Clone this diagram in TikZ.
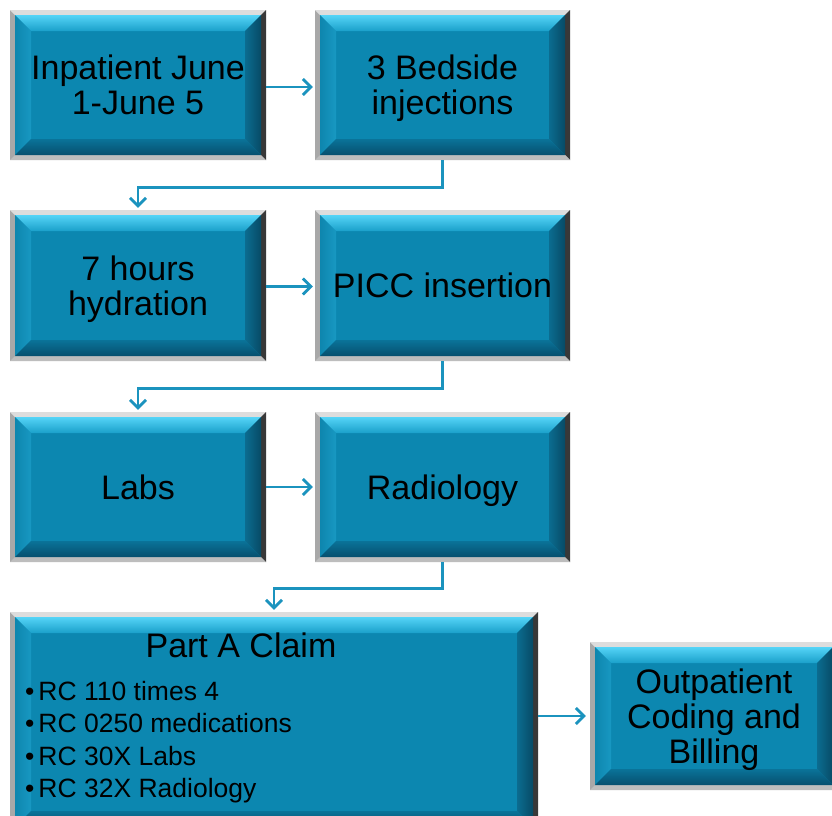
\documentclass[tikz,border=0pt]{standalone}
\usepackage{fontspec}
\setmainfont{Liberation Sans}
\usetikzlibrary{arrows.meta}
\definecolor{face}{HTML}{0C87B0}
\definecolor{bevtopA}{HTML}{55D4F7}
\definecolor{bevtopB}{HTML}{1AA0CA}
\definecolor{bevleftA}{HTML}{0E86AE}
\definecolor{bevleftB}{HTML}{1898C2}
\definecolor{bevrightA}{HTML}{074B66}
\definecolor{bevrightB}{HTML}{0B6C90}
\definecolor{bevbotA}{HTML}{0A7399}
\definecolor{bevbotB}{HTML}{064F6E}
\definecolor{frtop}{HTML}{DDDDDD}
\definecolor{frleft}{HTML}{A8A8A8}
\definecolor{frright}{HTML}{383838}
\definecolor{frbot}{HTML}{BDBDBD}
\definecolor{conncol}{HTML}{1B93BE}
\newcommand\hstr{\rule{0pt}{32.3pt}}
\newcommand\dstr{\rule[-7.5pt]{0pt}{7.5pt}}
\tikzset{
  conn/.style={draw=conncol, line width=2.8pt, -{Straight Barb[length=8pt,width=16pt]}, shorten >=2pt},
  boxtext/.style={font=\fontsize{34}{35}\selectfont, align=center, text=black, inner sep=0pt},
  bultext/.style={font=\fontsize{26.5}{32.4}\selectfont, align=left, text=black, inner sep=0pt, anchor=west},
}
% #1 name, #2 x1, #3 y1, #4 x2, #5 y2, #6 text
\newcommand\bevbox[6]{%
  \fill[frleft] (#2,#3) rectangle (#4,#5);
  \fill[frtop] (#2,#3) -- (#4,#3) -- (#4-5,#3+5) -- (#2+5,#3+5) -- cycle;
  \fill[frright] (#4,#3) -- (#4,#5) -- (#4-5,#5-5) -- (#4-5,#3+5) -- cycle;
  \fill[frbot] (#2,#5) -- (#4,#5) -- (#4-5,#5-5) -- (#2+5,#5-5) -- cycle;
  \fill[face] (#2+5,#3+5) rectangle (#4-5,#5-5);
  \shade[top color=bevtopA, bottom color=bevtopB] (#2+5,#3+5) -- (#4-5,#3+5) -- (#4-21,#3+21) -- (#2+21,#3+21) -- cycle;
  \shade[left color=bevleftA, right color=bevleftB] (#2+5,#3+5) -- (#2+21,#3+21) -- (#2+21,#5-21) -- (#2+5,#5-5) -- cycle;
  \shade[left color=bevrightB, right color=bevrightA] (#4-5,#3+5) -- (#4-21,#3+21) -- (#4-21,#5-21) -- (#4-5,#5-5) -- cycle;
  \shade[top color=bevbotA, bottom color=bevbotB] (#2+5,#5-5) -- (#2+21,#5-21) -- (#4-21,#5-21) -- (#4-5,#5-5) -- cycle;
  \node[boxtext, minimum width={(#4-#2)*1pt}, minimum height={(#5-#3)*1pt}] (#1) at ({(#2+#4)/2},{(#3+#5)/2}) {#6};
}
\begin{document}
\begin{tikzpicture}[x=1pt,y=-1pt]
\useasboundingbox (0,0) rectangle (832,815);
\clip (0,0) rectangle (832,815);
\fill[white] (0,0) rectangle (832,815);
\bevbox{b1}{10}{10}{266}{160}{\hstr Inpatient June\\1-June 5\dstr}
\bevbox{b2}{315}{10}{570}{160}{\hstr 3 Bedside\\injections\dstr}
\bevbox{b3}{10}{210}{266}{361}{\hstr 7 hours\\hydration\dstr}
\bevbox{b4}{315}{210}{570}{361}{\hstr PICC insertion\dstr}
\bevbox{b5}{10}{412}{266}{562}{\hstr Labs\dstr}
\bevbox{b6}{315}{412}{570}{562}{\hstr Radiology\dstr}
\bevbox{pa}{10}{612}{538}{832}{}
\bevbox{out}{590}{642}{838}{790}{\hstr Outpatient\\Coding and\\Billing\dstr}
\node[boxtext] (patitle) at (241,645) {Part A Claim};
\node[bultext] (pabul) at (25,742) {•\kern4pt RC 110 times 4\\•\kern4pt RC 0250 medications\\•\kern4pt RC 30X Labs\\•\kern4pt RC 32X Radiology};
\draw[conn] ([yshift=-2pt]b1.east) -- ([yshift=-2pt]b2.west);
\draw[conn] ([yshift=-1pt]b3.east) -- ([yshift=-1pt]b4.west);
\draw[conn] (b5.east) -- (b6.west);
\draw[conn] (b2.south) -- ++(0,27) -| (b3.north);
\draw[conn] (b4.south) -- ++(0,27) -| (b5.north);
\draw[conn] (b6.south) -- ++(0,26) -| (pa.north);
\draw[conn, shorten >=4pt] (pa.east |- out.west) -- (out.west);
\end{tikzpicture}
\end{document}
